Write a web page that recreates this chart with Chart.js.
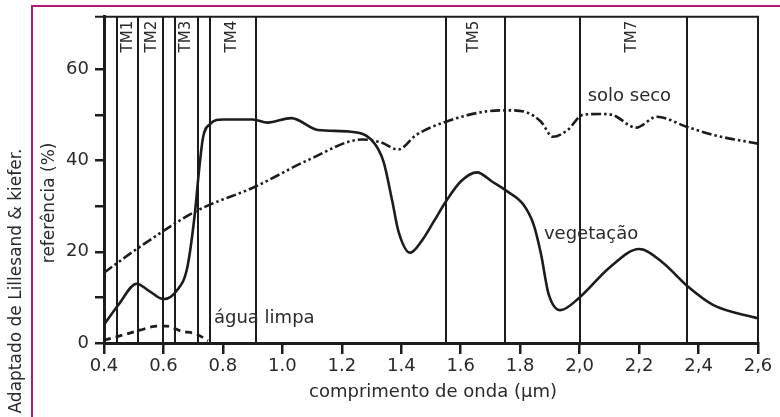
<!DOCTYPE html>
<html>
<head>
<meta charset="utf-8">
<script src="https://cdn.jsdelivr.net/npm/chart.js@4/dist/chart.umd.min.js"></script>
<style>
  html, body { margin: 0; padding: 0; background: #fff; }
  #wrap { width: 780px; height: 417px; position: relative; }
</style>
</head>
<body>
<div id="wrap"><canvas id="spectra" width="780" height="417"></canvas></div>
<script>
    // wavelength (um) / reflectance (%)
    const vegX = [0.40, 0.45, 0.51, 0.55, 0.60, 0.645, 0.68, 0.705, 0.72, 0.733, 0.757, 0.80, 0.90, 0.95, 1.03, 1.12, 1.23, 1.30, 1.34, 1.37, 1.39, 1.43, 1.47, 1.51, 1.55, 1.60, 1.655, 1.705, 1.755, 1.81, 1.845, 1.87, 1.895, 1.935, 2.0, 2.1, 2.2, 2.28, 2.36, 2.45, 2.6];
    const vegY = [4, 8.5, 13, 11.5, 9.6, 11.5, 16.5, 28, 38, 45, 48, 49, 49, 48.3, 49.3, 46.7, 46.3, 44.5, 39.8, 31, 24.6, 19.8, 22.5, 26.7, 31, 35.4, 37.4, 35.4, 33.3, 30.4, 26, 19.5, 10.9, 7.2, 10, 16.5, 20.6, 17.6, 12.6, 8.3, 5.4];

    const soilX = [0.40, 0.51, 0.71, 0.91, 1.09, 1.27, 1.33, 1.39, 1.45, 1.55, 1.69, 1.76, 1.82, 1.87, 1.91, 1.96, 2.01, 2.07, 2.11, 2.19, 2.26, 2.36, 2.45, 2.6];
    const soilY = [15.4, 20.6, 28.9, 34.3, 40.2, 44.6, 44, 42.4, 45.6, 48.5, 50.8, 51, 50.6, 48.5, 45.2, 46.7, 50, 50.2, 50, 47.2, 49.6, 47.4, 45.6, 43.7];

    const waterX = [0.40, 0.44, 0.52, 0.58, 0.61, 0.66, 0.71, 0.75];
    const waterY = [0.6, 1.3, 2.8, 3.7, 3.7, 2.6, 2.0, 0.5];

    // Landsat TM band edges and labels
    const bandEdges = [0.445, 0.515, 0.60, 0.64, 0.715, 0.755, 0.91, 1.55, 1.75, 2.0, 2.36];
    const bandNames = ['TM1', 'TM2', 'TM3', 'TM4', 'TM5', 'TM7'];
    const bandCenters = [0.48, 0.563, 0.676, 0.832, 1.645, 2.175];

    const xTicks = [0.4, 0.6, 0.8, 1.0, 1.2, 1.4, 1.6, 1.8, 2.0, 2.2, 2.4, 2.6];
    const yTicks = [0, 10, 20, 30, 40, 50, 60];
    const yLabeled = [0, 20, 40, 60];

    const FONT = '"DejaVu Sans", sans-serif';
    const INK = '#1c1c1c';
    const TXT = '#2a2a2a';

    function pairs(xs, ys) {
        return xs.map((x, i) => ({ x: x, y: ys[i] }));
    }

    const decorPlugin = {
        id: 'decor',
        beforeDatasetsDraw(chart) {
            const ctx = chart.ctx;
            const a = chart.chartArea;
            const xs = chart.scales.x;
            ctx.save();
            // band boundaries
            ctx.strokeStyle = INK;
            ctx.lineWidth = 2;
            bandEdges.forEach(e => {
                const px = Math.round(xs.getPixelForValue(e));
                ctx.beginPath();
                ctx.moveTo(px, a.top);
                ctx.lineTo(px, a.bottom);
                ctx.stroke();
            });
            // top & right frame
            ctx.lineWidth = 2;
            ctx.beginPath();
            ctx.moveTo(a.left - 9, a.top);
            ctx.lineTo(a.right, a.top);
            ctx.lineTo(a.right, a.bottom);
            ctx.stroke();
            // band names
            ctx.fillStyle = TXT;
            ctx.font = '15px ' + FONT;
            ctx.textAlign = 'right';
            ctx.textBaseline = 'middle';
            bandNames.forEach((name, i) => {
                const px = xs.getPixelForValue(bandCenters[i]);
                ctx.save();
                ctx.translate(px, a.top + 4);
                ctx.rotate(-Math.PI / 2);
                ctx.fillText(name, 0, 0);
                ctx.restore();
            });
            ctx.restore();
        },
        afterDraw(chart) {
            const ctx = chart.ctx;
            const a = chart.chartArea;
            const xs = chart.scales.x;
            const ys = chart.scales.y;
            ctx.save();
            ctx.fillStyle = TXT;
            ctx.font = '18px ' + FONT;
            ctx.textBaseline = 'middle';
            ctx.textAlign = 'left';
            ctx.fillText('solo seco', xs.getPixelForValue(2.0) + 8, ys.getPixelForValue(54));
            ctx.fillText('vegetação', xs.getPixelForValue(1.88), ys.getPixelForValue(23.8));
            ctx.fillText('água limpa', xs.getPixelForValue(0.77), ys.getPixelForValue(5.3));

            ctx.textAlign = 'center';
            ctx.fillText('comprimento de onda (\u03bcm)', (a.left + a.right) / 2 + 2, a.bottom + 49);

            ctx.save();
            ctx.translate(50, (a.top + a.bottom) / 2 + 23);
            ctx.rotate(-Math.PI / 2);
            ctx.font = '17px ' + FONT;
            ctx.fillText('referência (%)', 0, 0);
            ctx.restore();

            ctx.save();
            ctx.translate(17, 281);
            ctx.rotate(-Math.PI / 2);
            ctx.font = '17px ' + FONT;
            ctx.fillText('Adaptado de Lillesand & kiefer.', 0, 0);
            ctx.restore();

            // magenta frame
            ctx.strokeStyle = '#b3196e';
            ctx.lineWidth = 2;
            ctx.beginPath();
            ctx.moveTo(32, chart.height);
            ctx.lineTo(32, 6);
            ctx.lineTo(chart.width, 6);
            ctx.stroke();
            ctx.restore();
        }
    };

    new Chart(document.getElementById('spectra').getContext('2d'), {
        type: 'scatter',
        data: {
            datasets: [
                {
                    label: 'vegetação',
                    data: pairs(vegX, vegY),
                    showLine: true,
                    borderColor: INK,
                    borderWidth: 2.6,
                    pointRadius: 0,
                    cubicInterpolationMode: 'monotone'
                },
                {
                    label: 'solo seco',
                    data: pairs(soilX, soilY),
                    showLine: true,
                    borderColor: INK,
                    borderWidth: 2.6,
                    borderDash: [10, 3, 2.5, 3, 2.5, 3],
                    pointRadius: 0,
                    cubicInterpolationMode: 'monotone'
                },
                {
                    label: 'água limpa',
                    data: pairs(waterX, waterY),
                    showLine: true,
                    borderColor: INK,
                    borderWidth: 2.8,
                    borderDash: [7, 5],
                    pointRadius: 0,
                    cubicInterpolationMode: 'monotone'
                }
            ]
        },
        options: {
            responsive: false,
            animation: false,
            devicePixelRatio: 1,
            layout: { padding: { left: 0, top: 13, right: 22, bottom: 0 } },
            plugins: {
                legend: { display: false },
                tooltip: { enabled: false }
            },
            scales: {
                x: {
                    type: 'linear',
                    min: 0.4,
                    max: 2.6,
                    afterBuildTicks: s => { s.ticks = xTicks.map(v => ({ value: v })); },
                    afterFit: s => { s.height = 74; },
                    ticks: {
                        color: TXT,
                        font: { family: FONT, size: 18 },
                        padding: 2,
                        maxRotation: 0,
                        callback: v => {
                            const t = Number(v).toFixed(1);
                            return v >= 1.95 ? t.replace('.', ',') : t;
                        }
                    },
                    grid: { drawOnChartArea: false, color: INK, lineWidth: 2.5, tickLength: 11 },
                    border: { color: INK, width: 3 }
                },
                y: {
                    min: 0,
                    max: 71.5,
                    afterBuildTicks: s => { s.ticks = yTicks.map(v => ({ value: v })); },
                    afterFit: s => { s.width = 104; },
                    ticks: {
                        color: TXT,
                        font: { family: FONT, size: 18 },
                        padding: 6,
                        callback: v => (yLabeled.includes(v) ? String(v) : '')
                    },
                    grid: { drawOnChartArea: false, color: INK, lineWidth: 2.5, tickLength: 9 },
                    border: { color: INK, width: 3 }
                }
            }
        },
        plugins: [decorPlugin]
    });
</script>
</body>
</html>
